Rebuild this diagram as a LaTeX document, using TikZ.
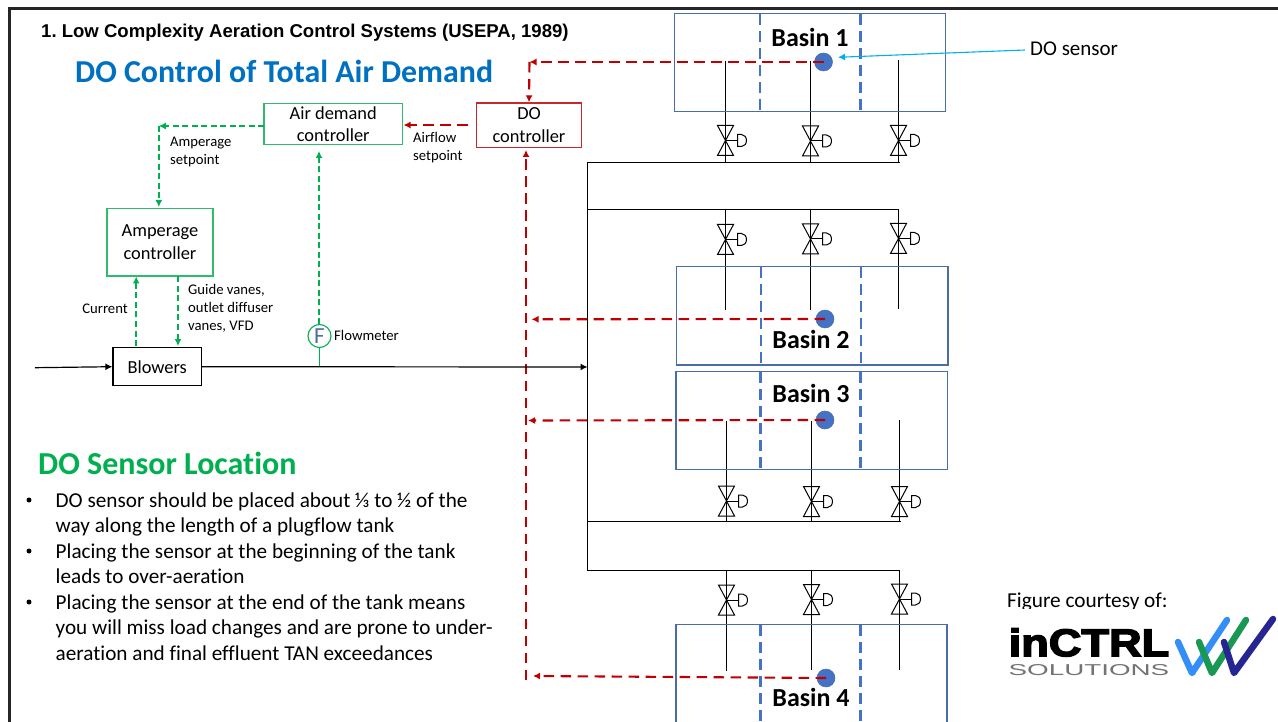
\documentclass[tikz,border=0pt]{standalone}
\usepackage{graphicx}
\usepackage{fontspec}
\setmainfont[Ligatures=NoCommon]{Carlito}
\newfontfamily\headfont{Liberation Sans}
\newfontfamily\logofont[FakeBold=3.5]{Liberation Sans}
\usetikzlibrary{arrows.meta}
\definecolor{redc}{HTML}{C00000}
\definecolor{greenc}{HTML}{00B050}
\definecolor{boxgreen}{HTML}{2EBB6B}
\definecolor{boxred}{HTML}{C8272C}
\definecolor{bluet}{HTML}{0070C0}
\definecolor{basinb}{HTML}{4A6DA8}
\definecolor{zoneb}{HTML}{4472C4}
\definecolor{cyanc}{HTML}{00B0F0}
\newcommand{\fs}[2]{\fontsize{#1}{#2}\selectfont}
\frenchspacing
\tikzset{
  x=1pt,y=-1pt,
  tip/.style={-{Latex[length=7pt,width=7pt]}},
  reddash/.style={draw=redc,line width=2.1pt,dash pattern=on 10.5pt off 6.5pt},
  greendash/.style={draw=greenc,line width=1.6pt,dash pattern=on 6pt off 3.5pt},
  zonedash/.style={draw=zoneb,line width=2.1pt,dash pattern=on 11pt off 6pt},
  pipe/.style={draw=black,line width=1.2pt},
  basin/.style={draw=basinb,line width=1.3pt},
  sensor/.style={circle,fill=zoneb,draw=basinb,line width=.5pt,minimum size=18pt,inner sep=0pt},
  gbox/.style={draw=boxgreen,line width=1.4pt,inner sep=0pt,align=center,text=black},
  rbox/.style={draw=boxred,line width=1.4pt,inner sep=0pt,align=center,text=black},
  kbox/.style={draw=black,line width=1.4pt,inner sep=0pt,align=center},
  small/.style={inner sep=0pt,align=left,font=\fs{14.7}{18}},
  basinlabel/.style={inner sep=0pt,font=\bfseries\fs{26}{28}},
  bodyline/.style={inner sep=0pt,anchor=base west,font=\fs{21.2}{24}},
  bulletmark/.style={circle,fill=black,minimum size=5pt,inner sep=0pt},
  valve/.pic={
    \draw[line width=1pt,line join=miter] (-8,-15) -- (8,-15) -- (-8,15) -- (8,15) -- cycle;
    \draw[line width=1pt] (0,0) -- (12,0);
    \draw[line width=1pt] (12,-6) -- (16,-6) arc (-90:90:5 and 6) -- (12,6) -- cycle;
  }
}
\begin{document}
\begin{tikzpicture}
\useasboundingbox (0,0) rectangle (1278,722);
\begin{scope}
\clip (0,0) rectangle (1278,722);
% frame
\draw[line width=3pt,draw=black!85] (9,730) -- (9,9) -- (1285,9);

% pipework
\coordinate (hub1) at (587.5,162.5);
\coordinate (hub2) at (587.5,209.5);
\coordinate (hub3) at (587.5,521.5);
\coordinate (hub4) at (587.5,570.5);
\draw[pipe] (hub1) -- (hub4);
\draw[pipe] (hub1) -- (900,162.5);
\draw[pipe] (hub2) -- (898,209.5);
\draw[pipe] (hub3) -- (901,521.5);
\draw[pipe] (hub4) -- (900,570.5);
\foreach \x/\a/\b/\v in {725.5/61/163/140.5, 810.5/61/163/141, 898.5/60/163/140.5,
                         725.5/209/310/239.5, 810.5/209/310/239, 898.5/209/309/238.5,
                         726.5/421/522/501, 811.5/421/522/501.5, 899.5/420/522/501.5,
                         726.5/570/671/600, 811.5/570/670/599.5, 899.5/570/670/599}{
  \draw[pipe] (\x,\a) -- (\x,\b);
  \pic at (\x,\v) {valve};
}

% basins
\draw[basin] (674.7,13.7) rectangle (945.7,111.7);
\draw[zonedash] (760,14) -- (760,112);
\draw[zonedash] (860.5,14) -- (860.5,112);
\draw[basin] (676.7,266.7) rectangle (948,365);
\draw[zonedash] (761,267) -- (761,365);
\draw[zonedash] (861,267) -- (861,365);
\draw[basin] (676,371.5) rectangle (947.5,469.5);
\draw[zonedash] (760.5,372) -- (760.5,470);
\draw[zonedash] (860.5,372) -- (860.5,470);
\draw[basin] (676,624.5) rectangle (947,735);
\draw[zonedash] (760.5,625) -- (760.5,725);
\draw[zonedash] (860.5,625) -- (860.5,725);

\node[basinlabel] (b1) at (810,37.3) {Basin 1};
\node[basinlabel] (b2) at (811,339.5) {Basin 2};
\node[basinlabel] (b3) at (811,393.5) {Basin 3};
\node[basinlabel] (b4) at (811,697.5) {Basin 4};
\node[sensor] (s1) at (823.5,62) {};
\node[sensor] (s2) at (825,319) {};
\node[sensor] (s3) at (825,420) {};
\node[sensor] (s4) at (826,678) {};

% controllers
\node[gbox,minimum width=138.5pt,minimum height=41pt,font=\fs{18.4}{22}] (air) at (333.2,123.8) {Air demand\\controller};
\node[rbox,minimum width=105.5pt,minimum height=44.6pt,font=\fs{18.4}{23}] (doc) at (529,125.3) {DO\\controller};
\node[gbox,minimum width=105.8pt,minimum height=67.3pt,font=\fs{18.4}{23}] (amp) at (160,242.3) {Amperage\\controller};
\node[kbox,minimum width=88.3pt,minimum height=38pt,font=\fs{18.4}{20}] (blow) at (157.2,366.7) {Blowers};
\node[circle,draw=greenc,line width=1.1pt,minimum size=23pt,inner sep=0pt,text=basinb,font=\fs{23}{24}] (fm) at (319.5,336) {F};

% red signal lines
\coordinate (r0) at (529.5,62);
\coordinate (r1) at (526,680);
\coordinate (r2) at (526,150);
\coordinate (t2) at (531.5,319.3);
\coordinate (t3) at (528,420.5);
\coordinate (t4) at (533,676);
\coordinate (air0) at (467.7,125);
\coordinate (air1) at (403.5,125);
\draw[reddash,tip,redc] (s1.center) -- (r0);
\draw[reddash,tip,redc] (r0) -- (doc.north);
\draw[reddash,tip,redc] (r1) -- (r2);
\draw[reddash,tip,redc] (s2.center) -- (t2);
\draw[reddash,tip,redc] (s3.center) -- (t3);
\draw[reddash,tip,redc] (s4.center) -- (t4);
\draw[reddash,tip,redc] (air0) -- (air1);

% green signal lines
\coordinate (g0) at (158.8,126);
\coordinate (g1) at (158.8,207);
\coordinate (g2) at (319,151);
\coordinate (g2b) at (319,324.5);
\coordinate (g3) at (136.2,346);
\coordinate (g4) at (136.2,276.5);
\coordinate (g5) at (178,276.5);
\coordinate (g6) at (178,346);
\coordinate (g7) at (319.5,367);
\draw[greendash,tip,greenc] (264,126) -- (g0);
\draw[greendash,tip,greenc] (g0) -- (g1);
\draw[greendash,tip,greenc] (g2b) -- (g2);
\draw[greendash,tip,greenc] (g3) -- (g4);
\draw[greendash,tip,greenc] (g5) -- (g6);
\draw[draw=greenc,line width=1.1pt] (fm.south) -- (g7);

% air flow
\coordinate (in0) at (35,367.7);
\coordinate (in1) at (587.5,367);
\draw[pipe,tip,black] (in0) -- (blow.west);
\draw[pipe,tip,black] (blow.east) -- (in1);

% sensor callout
\node[inner sep=0pt,anchor=west,font=\fs{21}{24}] (dolabel) at (1030,48.7) {DO sensor};
\coordinate (callout) at (1025,50);
\draw[draw=cyanc,line width=1.1pt,-{Latex[length=7pt,width=7pt]}] (callout) -- (838,57.3);

% labels
\node[small,anchor=west] (l1) at (170,151.7) {Amperage\\setpoint};
\node[small,anchor=west] (l2) at (413,147.7) {Airflow\\setpoint};
\node[small,anchor=west] (l3) at (188,308.7) {Guide vanes,\\outlet diffuser\\vanes, VFD};
\node[small,anchor=east] (l4) at (128,309) {Current};
\node[small,anchor=west] (l5) at (334,335.7) {Flowmeter};

% headings
\node[inner sep=0pt,anchor=base west,font=\headfont\bfseries\fs{18.55}{20}] (t1) at (41,37.5) {1. Low Complexity Aeration Control Systems (USEPA, 1989)};
\node[inner sep=0pt,anchor=base west,text=bluet,font=\bfseries\fs{31.9}{34}] (t2n) at (75,82.5) {DO Control of Total Air Demand};
\node[inner sep=0pt,anchor=base west,text=greenc,font=\bfseries\fs{32}{34}] (t3n) at (38,474.5) {DO Sensor Location};

% bullets
\node[bulletmark] (bu1) at (29,500) {};
\node[bulletmark] (bu2) at (29,551) {};
\node[bulletmark] (bu3) at (29,602) {};
\node[bodyline] (p1) at (55.5,507.4) {DO sensor should be placed about ⅓ to ½ of the};
\node[bodyline] (p2) at (55.5,532.6) {way along the length of a plugflow tank};
\node[bodyline] (p3) at (55.5,558) {Placing the sensor at the beginning of the tank};
\node[bodyline] (p4) at (55.5,583.9) {leads to over-aeration};
\node[bodyline] (p5) at (55.5,609.5) {Placing the sensor at the end of the tank means};
\node[bodyline] (p6) at (55.5,634.9) {you will miss load changes and are prone to under-};
\node[bodyline] (p7) at (55.5,660.2) {aeration and final effluent TAN exceedances};

% logo
\node[inner sep=0pt,anchor=base west,font=\fs{21.3}{24}] (fig) at (1007,607.2) {Figure courtesy of:};
\fill[white] (1000,609) rectangle (1278,620);
\node[inner sep=0pt,anchor=north west] (logo1) at (1008.5,628) {\resizebox{160.5pt}{28pt}{\logofont\bfseries inCTRL}};
\node[inner sep=0pt,anchor=north west,text=black!55] (logo2) at (1008.5,664) {\resizebox{160.5pt}{11pt}{\headfont SOLUTIONS}};
\draw[draw=cyanc!65!blue!80,line width=6.5pt,line cap=round,line join=round] (1178,642) -- (1192,673) -- (1227,620);
\draw[draw=greenc!80!black!90,line width=6.5pt,line cap=round,line join=round] (1199,642) -- (1212,673) -- (1246,620);
\draw[draw=blue!50!black!85,line width=6.5pt,line cap=round,line join=round] (1224,642) -- (1234,673) -- (1273,619);
\end{scope}
\end{tikzpicture}
\end{document}
